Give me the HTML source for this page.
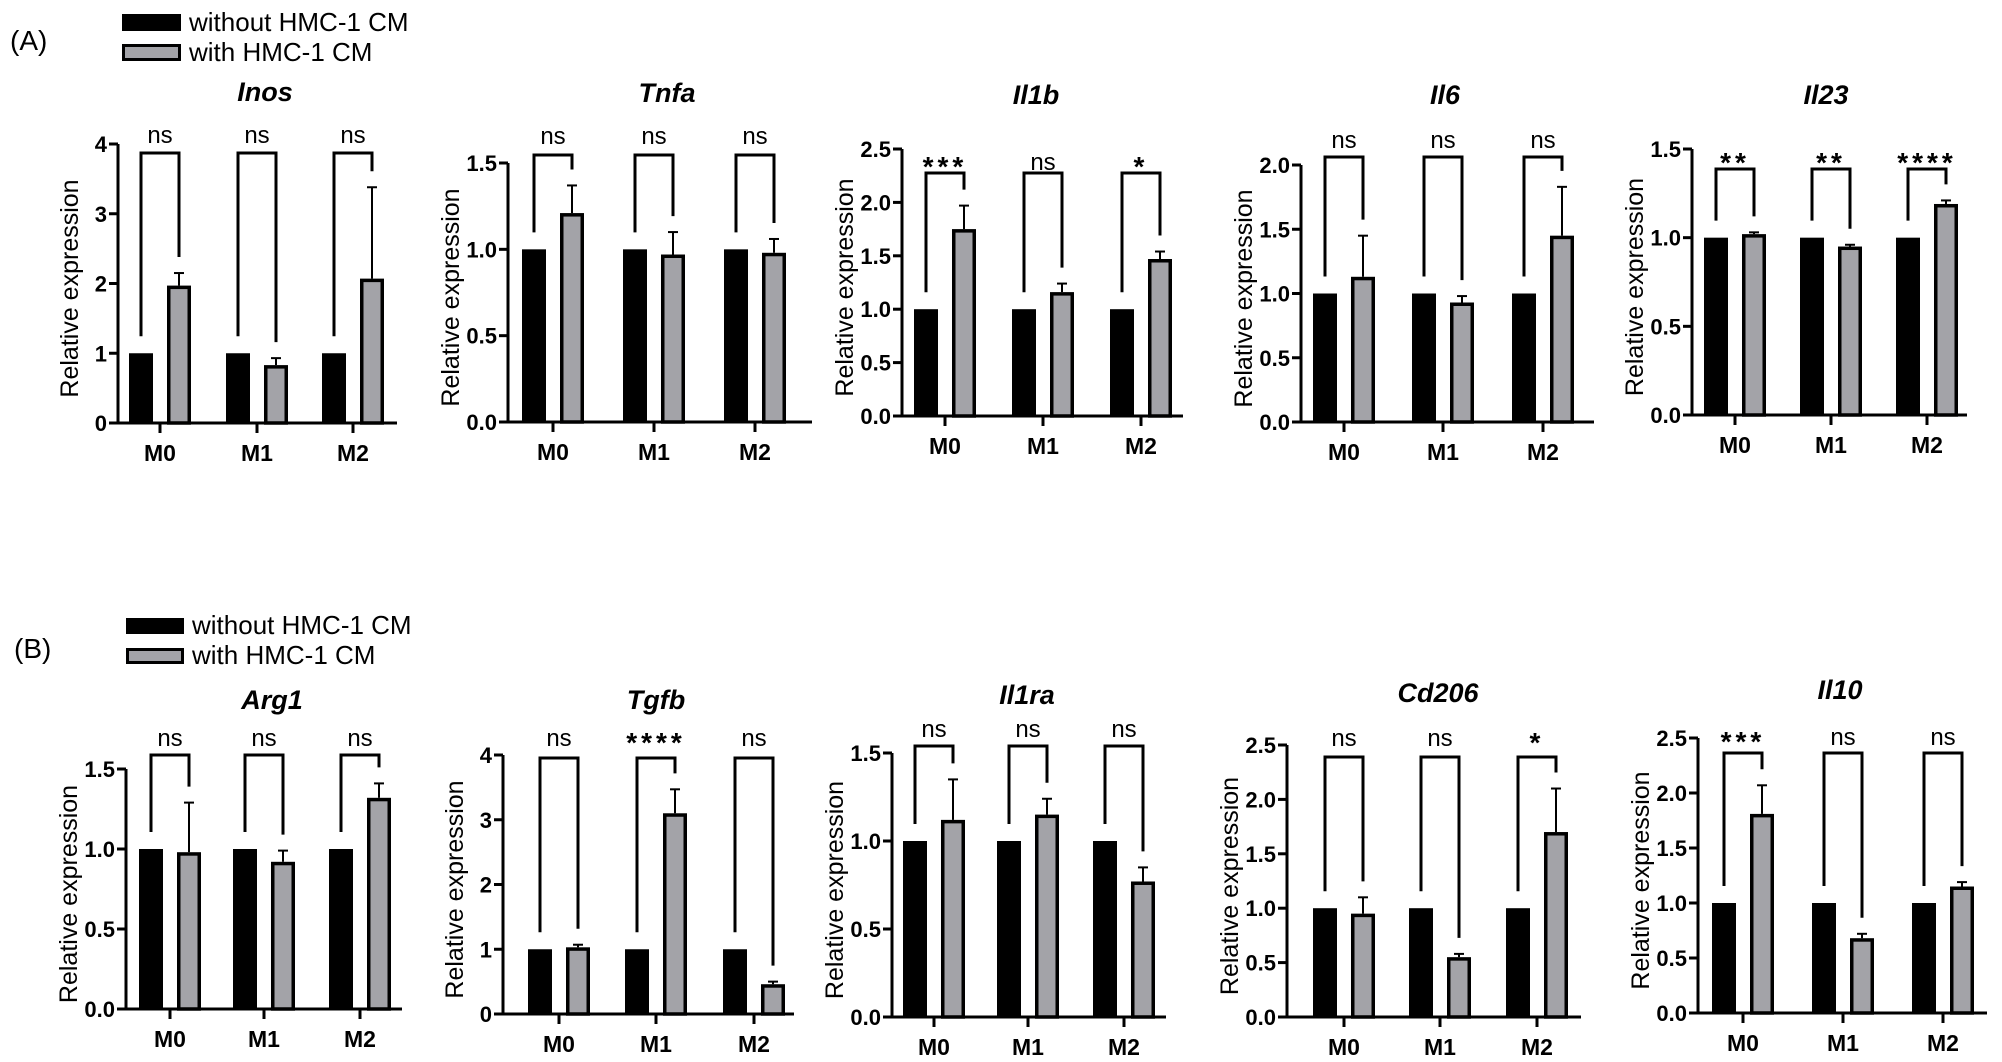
<!DOCTYPE html>
<html><head><meta charset="utf-8"><style>
html,body{margin:0;padding:0;background:#fff;}
svg{display:block;font-family:"Liberation Sans",Arial,sans-serif;}
</style></head><body>
<svg id="s" width="2002" height="1062" viewBox="0 0 2002 1062" xmlns="http://www.w3.org/2000/svg">
<rect width="2002" height="1062" fill="#fff"/>
<text x="10" y="50" font-size="28">(A)</text>
<rect x="122" y="14" width="59" height="17" fill="#000"/>
<rect x="123.5" y="45.5" width="56" height="14" fill="#a3a3a8" stroke="#000" stroke-width="3"/>
<text x="189" y="31" font-size="26">without HMC-1 CM</text>
<text x="189" y="61" font-size="26">with HMC-1 CM</text>
<text x="14" y="658" font-size="28">(B)</text>
<rect x="126" y="618" width="58" height="16" fill="#000"/>
<rect x="127.5" y="649.5" width="55" height="13" fill="#a3a3a8" stroke="#000" stroke-width="3"/>
<text x="192" y="634" font-size="26">without HMC-1 CM</text>
<text x="192" y="664" font-size="26">with HMC-1 CM</text>
<g id="g"></g>
</svg>
<script>
var P=[
{ax:118,top:144,bot:423,max:4,step:1,dec:0,c:[160,257,353],end:397,t:"Inos",tx:265,ty:101,sy:143,by:153,s:["ns","ns","ns"],d:[[1.97,2.15],[0.83,0.93],[2.07,3.38]]},
{ax:508,top:163,bot:422,max:1.5,step:0.5,dec:1,c:[553,654,755],end:812,t:"Tnfa",tx:667,ty:102,sy:144,by:155,s:["ns","ns","ns"],d:[[1.21,1.37],[0.97,1.10],[0.98,1.06]]},
{ax:902,top:149,bot:416,max:2.5,step:0.5,dec:1,c:[945,1043,1141],end:1183,t:"Il1b",tx:1036,ty:104,sy:170,by:173,s:["***","ns","*"],d:[[1.75,1.97],[1.16,1.24],[1.47,1.54]]},
{ax:1301,top:165,bot:422,max:2,step:0.5,dec:1,c:[1344,1443,1543],end:1594,t:"Il6",tx:1445,ty:104,sy:148,by:157,s:["ns","ns","ns"],d:[[1.13,1.45],[0.93,0.98],[1.45,1.83]]},
{ax:1692,top:149,bot:415,max:1.5,step:0.5,dec:1,c:[1735,1831,1927],end:1967,t:"Il23",tx:1826,ty:104,sy:166,by:169,s:["**","**","****"],d:[[1.02,1.03],[0.95,0.96],[1.19,1.21]]},
{ax:126,top:769,bot:1009,max:1.5,step:0.5,dec:1,c:[170,264,360],end:402,t:"Arg1",tx:272,ty:709,sy:746,by:755,s:["ns","ns","ns"],d:[[0.98,1.29],[0.92,0.99],[1.32,1.41]]},
{ax:503,top:755,bot:1014,max:4,step:1,dec:0,c:[559,656,754],end:794,t:"Tgfb",tx:656,ty:709,sy:746,by:758,s:["ns","****","ns"],d:[[1.03,1.07],[3.1,3.47],[0.46,0.5]]},
{ax:892,top:753,bot:1017,max:1.5,step:0.5,dec:1,c:[934,1028,1124],end:1166,t:"Il1ra",tx:1027,ty:704,sy:737,by:746,s:["ns","ns","ns"],d:[[1.12,1.35],[1.15,1.24],[0.77,0.85]]},
{ax:1287,top:745,bot:1017,max:2.5,step:0.5,dec:1,c:[1344,1440,1537],end:1581,t:"Cd206",tx:1438,ty:702,sy:746,by:757,s:["ns","ns","*"],d:[[0.95,1.10],[0.55,0.58],[1.7,2.1]]},
{ax:1698,top:738,bot:1013,max:2.5,step:0.5,dec:1,c:[1743,1843,1943],end:1987,t:"Il10",tx:1840,ty:699,sy:745,by:753,s:["***","ns","ns"],d:[[1.81,2.07],[0.68,0.72],[1.15,1.19]]}
];
var h="";
P.forEach(function(p){
 var k=(p.bot-p.top)/p.max; function Y(v){return p.bot-v*k;}
 h+='<text x="'+p.tx+'" y="'+p.ty+'" font-size="27" font-weight="bold" font-style="italic" text-anchor="middle">'+p.t+'</text>';
 h+='<line x1="'+p.ax+'" y1="'+p.top+'" x2="'+p.ax+'" y2="'+(p.bot+1.5)+'" stroke="#000" stroke-width="3"/>';
 h+='<line x1="'+(p.ax-1.5)+'" y1="'+p.bot+'" x2="'+p.end+'" y2="'+p.bot+'" stroke="#000" stroke-width="3"/>';
 for(var v=0;v<=p.max+1e-9;v+=p.step){var y=Y(v);
  h+='<line x1="'+(p.ax-9)+'" y1="'+y+'" x2="'+p.ax+'" y2="'+y+'" stroke="#000" stroke-width="3"/>';
  h+='<text x="'+(p.ax-11)+'" y="'+(y+8)+'" font-size="22" font-weight="bold" text-anchor="end">'+v.toFixed(p.dec)+'</text>';}
 var my=(p.top+p.bot)/2+5, lx=p.ax-(p.dec?49:40);
 h+='<text transform="translate('+lx+','+my+') rotate(-90)" font-size="25" text-anchor="middle">Relative expression</text>';
 p.c.forEach(function(cx,i){
  h+='<line x1="'+cx+'" y1="'+p.bot+'" x2="'+cx+'" y2="'+(p.bot+10)+'" stroke="#000" stroke-width="3"/>';
  h+='<text x="'+cx+'" y="'+(p.bot+38)+'" font-size="23" font-weight="bold" text-anchor="middle">M'+i+'</text>';
  var bx=cx-19, gx=cx+19, w=24;
  h+='<rect x="'+(bx-w/2)+'" y="'+Y(1)+'" width="'+w+'" height="'+(p.bot-Y(1))+'" fill="#000"/>';
  var gv=p.d[i][0], ev=p.d[i][1];
  h+='<line x1="'+gx+'" y1="'+Y(gv)+'" x2="'+gx+'" y2="'+Y(ev)+'" stroke="#000" stroke-width="2"/>';
  h+='<line x1="'+(gx-5)+'" y1="'+Y(ev)+'" x2="'+(gx+5)+'" y2="'+Y(ev)+'" stroke="#000" stroke-width="2"/>';
  h+='<rect x="'+(gx-w/2+1.75)+'" y="'+(Y(gv)+1.75)+'" width="'+(w-3.5)+'" height="'+(p.bot-Y(gv)-1.75)+'" fill="#a3a3a8" stroke="#000" stroke-width="3.5"/>';
  var l1=Y(1)-17, l2=Y(ev)-16;
  h+='<polyline points="'+bx+','+l1+' '+bx+','+p.by+' '+gx+','+p.by+' '+gx+','+l2+'" fill="none" stroke="#000" stroke-width="3"/>';
  var s=p.s[i];
  if(s=="ns") h+='<text x="'+cx+'" y="'+p.sy+'" font-size="24" text-anchor="middle">ns</text>';
  else h+='<text x="'+cx+'" y="'+(p.sy+6)+'" font-size="28" font-weight="bold" letter-spacing="4" text-anchor="middle">'+s+'</text>';
 });
});
document.getElementById("g").innerHTML=h;
</script>
</body></html>
